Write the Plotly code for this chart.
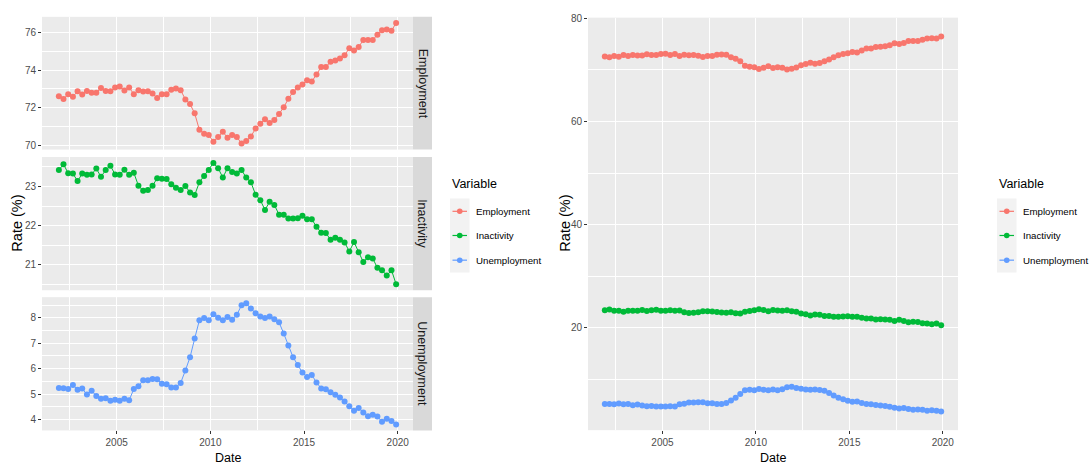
import pandas as pd
import plotly.graph_objects as go

# Quarterly labour-market rates (%), Dec 2001 - Dec 2019
dates = pd.date_range("2001-12-01", periods=73, freq="3MS")

employment = [
    72.61, 72.46, 72.72, 72.58, 72.88, 72.70, 72.89, 72.79, 72.79, 73.05,
    72.89, 72.88, 73.07, 73.12, 72.91, 73.07, 72.72, 72.93, 72.86, 72.88,
    72.75, 72.51, 72.72, 72.72, 72.95, 73.02, 72.93, 72.44, 72.19, 71.70,
    70.82, 70.61, 70.54, 70.19, 70.44, 70.72, 70.40, 70.54, 70.44, 70.09,
    70.23, 70.47, 70.89, 71.14, 71.39, 71.18, 71.35, 71.67, 72.02, 72.47,
    72.84, 73.07, 73.23, 73.46, 73.39, 73.77, 74.16, 74.16, 74.44, 74.51,
    74.61, 74.79, 75.16, 75.04, 75.23, 75.60, 75.60, 75.60, 75.88, 76.12,
    76.16, 76.09, 76.51,
]

inactivity = [
    23.42, 23.57, 23.34, 23.33, 23.14, 23.33, 23.30, 23.31, 23.46, 23.25,
    23.42, 23.53, 23.31, 23.30, 23.43, 23.30, 23.35, 23.02, 22.89, 22.91,
    23.02, 23.21, 23.20, 23.19, 23.06, 22.97, 22.91, 23.01, 22.85, 22.78,
    23.11, 23.27, 23.42, 23.60, 23.47, 23.23, 23.47, 23.37, 23.33, 23.42,
    23.23, 23.11, 22.79, 22.65, 22.40, 22.61, 22.53, 22.28, 22.28, 22.18,
    22.18, 22.19, 22.25, 22.16, 22.16, 21.97, 21.82, 21.81, 21.64, 21.69,
    21.64, 21.57, 21.34, 21.58, 21.32, 21.07, 21.19, 21.16, 20.92, 20.86,
    20.72, 20.86, 20.50,
]

unemployment = [
    5.24, 5.23, 5.20, 5.36, 5.17, 5.22, 4.98, 5.13, 4.93, 4.82,
    4.84, 4.74, 4.78, 4.74, 4.82, 4.76, 5.20, 5.31, 5.54, 5.54,
    5.59, 5.58, 5.41, 5.39, 5.26, 5.26, 5.44, 5.93, 6.45, 7.18,
    7.90, 7.99, 7.90, 8.14, 8.00, 7.90, 8.03, 7.92, 8.12, 8.49,
    8.57, 8.36, 8.18, 8.05, 7.99, 8.05, 7.94, 7.82, 7.38, 6.91,
    6.45, 6.14, 5.85, 5.67, 5.75, 5.46, 5.22, 5.19, 5.07, 4.97,
    4.87, 4.71, 4.52, 4.35, 4.45, 4.28, 4.13, 4.19, 4.12, 3.91,
    4.03, 3.94, 3.81,
]

variables = ["Employment", "Inactivity", "Unemployment"]
series = [employment, inactivity, unemployment]
colors = ["#F8766D", "#00BA38", "#619CFF"]

W, H = 1090, 465
FONT = "Liberation Sans, Arial, sans-serif"
TICK_COLOR = "#4D4D4D"


def px(x):
    return x / W


def py(y):
    return 1 - y / H


def expand(lo, hi, f=0.05):
    span = hi - lo
    return [lo - f * span, hi + f * span]


span = dates.max() - dates.min()
x_range = [dates.min() - span * 0.05, dates.max() + span * 0.05]

fig = go.Figure()

# Left: one facet per variable
left_x = [px(42), px(413)]
facet_rows = [(12, 146.5), (154, 289), (296, 431)]
facet_dticks = [(2, 1), (1, 0.5), (1, 0.5)]

for i, (name, vals, col) in enumerate(zip(variables, series, colors)):
    n = i + 1
    fig.add_trace(go.Scatter(
        x=dates, y=vals, mode="lines+markers", name=name,
        line=dict(color=col, width=1), marker=dict(color=col, size=6),
        xaxis=f"x{n}", yaxis=f"y{n}", showlegend=False,
    ))

# Right: all variables in one panel
for name, vals, col in zip(variables, series, colors):
    fig.add_trace(go.Scatter(
        x=dates, y=vals, mode="lines+markers", name=name,
        line=dict(color=col, width=1), marker=dict(color=col, size=6),
        xaxis="x4", yaxis="y4", showlegend=False,
    ))

grid_major = dict(showgrid=True, gridcolor="white", gridwidth=1.2)
tick_style = dict(ticks="outside", ticklen=3, tickwidth=1, tickcolor="#333333",
                  tickfont=dict(family=FONT, size=10, color=TICK_COLOR),
                  zeroline=False, showline=False)

layout = dict(
    width=W, height=H, margin=dict(l=0, r=0, t=0, b=0),
    paper_bgcolor="white", plot_bgcolor="#EBEBEB",
    font=dict(family=FONT),
)

for i, ((y0, y1), (dt, mdt)) in enumerate(zip(facet_rows, facet_dticks)):
    n = i + 1
    vals = series[i]
    xa = dict(domain=left_x, range=x_range, type="date",
              tick0="2000-01-01", dtick="M60", tickformat="%Y",
              minor=dict(dtick="M30", tick0="2000-01-01", showgrid=True,
                         gridcolor="white", gridwidth=0.6),
              anchor=f"y{n}", **grid_major, **tick_style)
    if n < 3:
        xa.update(showticklabels=False, ticks="")
    layout[f"xaxis{n}"] = xa
    layout[f"yaxis{n}"] = dict(
        domain=[py(y1), py(y0)], range=expand(min(vals), max(vals)),
        dtick=dt, tick0=0,
        minor=dict(dtick=mdt, tick0=0, showgrid=True, gridcolor="white", gridwidth=0.6),
        anchor=f"x{n}", **grid_major, **tick_style,
    )

all_vals = employment + inactivity + unemployment
layout["xaxis4"] = dict(domain=[px(588), px(958)], range=x_range, type="date",
                        tick0="2000-01-01", dtick="M60", tickformat="%Y",
                        minor=dict(dtick="M30", tick0="2000-01-01", showgrid=True,
                                   gridcolor="white", gridwidth=0.6),
                        anchor="y4", **grid_major, **tick_style)
layout["yaxis4"] = dict(domain=[py(430.7), py(12.8)], range=expand(min(all_vals), max(all_vals)),
                        dtick=20, tick0=0,
                        minor=dict(dtick=10, tick0=0, showgrid=True, gridcolor="white", gridwidth=0.6),
                        anchor="x4", **grid_major, **tick_style)

fig.update_layout(**layout)

shapes = []
annotations = []

# Facet strips
for (y0, y1), name in zip(facet_rows, variables):
    shapes.append(dict(type="rect", xref="paper", yref="paper",
                       x0=px(413), x1=px(432), y0=py(y1), y1=py(y0),
                       fillcolor="#D9D9D9", line=dict(width=0), layer="below"))
    annotations.append(dict(text=name, xref="paper", yref="paper",
                            x=px(422.5), y=py((y0 + y1) / 2), showarrow=False,
                            textangle=90, xanchor="center", yanchor="middle",
                            font=dict(family=FONT, size=12.5, color="#1A1A1A")))

# Axis titles
for cx in (227.5, 773):
    annotations.append(dict(text="Date", xref="paper", yref="paper",
                            x=px(cx), y=py(459), showarrow=False,
                            xanchor="center", yanchor="middle",
                            font=dict(family=FONT, size=12.5, color="black")))
for cx in (17, 565):
    annotations.append(dict(text="Rate (%)", xref="paper", yref="paper",
                            x=px(cx), y=py(221.5), showarrow=False, textangle=-90,
                            xanchor="center", yanchor="middle",
                            font=dict(family=FONT, size=14.5, color="black")))

# Legends
item_y = [209, 233.5, 258.5]
for lx in (450, 997):
    annotations.append(dict(text="Variable", xref="paper", yref="paper",
                            x=px(lx), y=py(181), showarrow=False,
                            xanchor="left", yanchor="middle",
                            font=dict(family=FONT, size=12.5, color="black")))
    shapes.append(dict(type="rect", xref="paper", yref="paper",
                       x0=px(lx), x1=px(lx + 19.5), y0=py(271), y1=py(196),
                       fillcolor="#F2F2F2", line=dict(width=0)))
    for name, col, yy in zip(variables, colors, item_y):
        shapes.append(dict(type="line", xref="paper", yref="paper",
                           x0=px(lx + 2.5), x1=px(lx + 17), y0=py(yy), y1=py(yy),
                           line=dict(color=col, width=1.2)))
        shapes.append(dict(type="circle", xref="paper", yref="paper",
                           x0=px(lx + 9.75 - 2.8), x1=px(lx + 9.75 + 2.8),
                           y0=py(yy + 2.8), y1=py(yy - 2.8),
                           fillcolor=col, line=dict(width=0)))
        annotations.append(dict(text=name, xref="paper", yref="paper",
                                x=px(lx + 24), y=py(yy), showarrow=False,
                                xanchor="left", yanchor="middle",
                                font=dict(family=FONT, size=9.7, color="black")))

fig.update_layout(shapes=shapes, annotations=annotations)

fig.write_html("out.html")
